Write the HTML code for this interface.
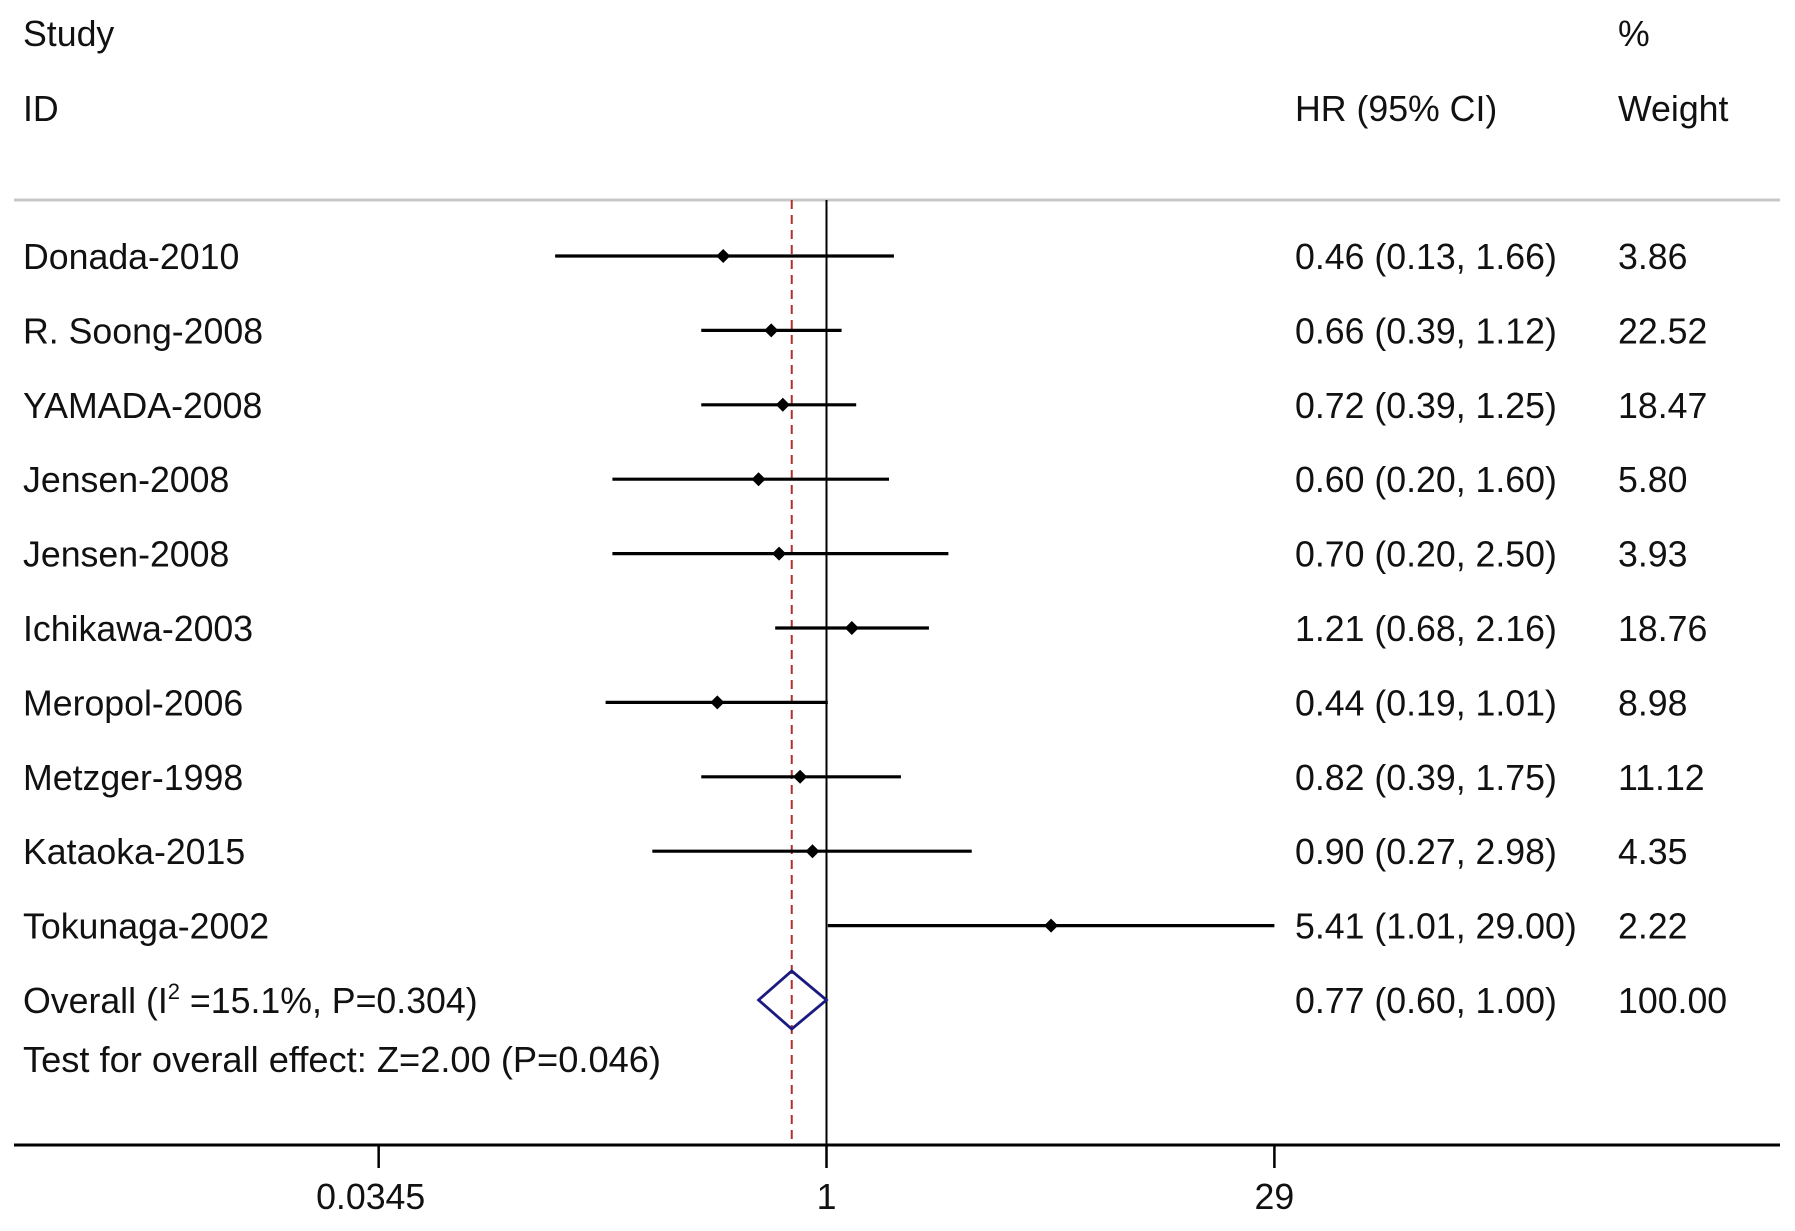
<!DOCTYPE html>
<html><head><meta charset="utf-8"><style>
html,body{margin:0;padding:0;background:#fff}
svg{display:block}
text{font-family:"Liberation Sans",Arial,sans-serif;font-size:35.7px;fill:#111}
</style></head><body>
<svg id="chart" width="1795" height="1231" viewBox="0 0 1795 1231">
<text x="23" y="46">Study</text>
<text x="23" y="121">ID</text>
<text x="1295" y="121">HR (95% CI)</text>
<text x="1618" y="46">%</text>
<text x="1618" y="121">Weight</text>
<line x1="14" y1="200" x2="1780" y2="200" stroke="#c8c8c8" stroke-width="3"/>
<g id="marks"></g>
</svg>
<script>
const studies=["Donada-2010","R. Soong-2008","YAMADA-2008","Jensen-2008","Jensen-2008","Ichikawa-2003","Meropol-2006","Metzger-1998","Kataoka-2015","Tokunaga-2002"];
const hr=[0.46,0.66,0.72,0.60,0.70,1.21,0.44,0.82,0.90,5.41];
const lo=[0.13,0.39,0.39,0.20,0.20,0.68,0.19,0.39,0.27,1.01];
const hi=[1.66,1.12,1.25,1.60,2.50,2.16,1.01,1.75,2.98,29.00];
const weights=["3.86","22.52","18.47","5.80","3.93","18.76","8.98","11.12","4.35","2.22"];
const overall=[0.77,0.60,1.00];
const ticks=[0.0345,1,29];
const tickLabels=["0.0345","1","29"];
const NS="http://www.w3.org/2000/svg";
const g=document.getElementById('marks');
const X=v=>826.5+Math.log(v)*(1274.4-826.5)/Math.log(29);
const Y=i=>256+i*74.4;
function el(t,a,p){const e=document.createElementNS(NS,t);for(const k in a)e.setAttribute(k,a[k]);(p||g).appendChild(e);return e;}
const yBot=1145;
let e=el('line',{x1:X(1),y1:200,x2:X(1),y2:yBot,stroke:'#000','stroke-width':2});


e=el('line',{x1:X(overall[0]),y1:200,x2:X(overall[0]),y2:yBot,stroke:'#b03030','stroke-width':2,'stroke-dasharray':'9,6'});


const f=v=>v.toFixed(2);
studies.forEach((s,i)=>{
  const y=Y(i);
  let t=el('text',{x:23,y:y+13});t.textContent=s;
  
  
  let l=el('line',{x1:X(lo[i]),y1:y,x2:X(hi[i]),y2:y,stroke:'#000','stroke-width':3.2});
  
  
  const cx=X(hr[i]);
  let p=el('polygon',{points:`${cx-7},${y} ${cx},${y-7} ${cx+7},${y} ${cx},${y+7}`,fill:'#000'});
  
  
  t=el('text',{x:1295,y:y+13});t.textContent=`${f(hr[i])} (${f(lo[i])}, ${f(hi[i])})`;
  
  
  t=el('text',{x:1618,y:y+13});t.textContent=weights[i];
  
  
});
const oy=Y(10);
let d=el('polygon',{points:`${X(overall[1])},${oy} ${X(overall[0])},${oy-29} ${X(overall[2])},${oy} ${X(overall[0])},${oy+29}`,fill:'none',stroke:'#1a1a80','stroke-width':2.8});


let t=el('text',{x:23,y:oy+13});
t.innerHTML='Overall  (I<tspan dy="-14" font-size="22">2</tspan><tspan dy="14"> =15.1%, P=0.304)</tspan>';


t=el('text',{x:1295,y:oy+13});t.textContent=`${f(overall[0])} (${f(overall[1])}, ${f(overall[2])})`;


t=el('text',{x:1618,y:oy+13});t.textContent='100.00';


t=el('text',{x:23,y:1072,textLength:638,lengthAdjust:'spacingAndGlyphs'});t.textContent='Test for overall effect: Z=2.00 (P=0.046)';


let ax=el('line',{x1:14,y1:yBot,x2:1780,y2:yBot,stroke:'#000','stroke-width':3});


ticks.forEach((v,i)=>{
  let k=el('line',{x1:X(v),y1:yBot,x2:X(v),y2:1168,stroke:'#000','stroke-width':2.5});
  
  
  let tl=el('text',{x:X(v)-(i===0?8:0),y:1209,'text-anchor':'middle'});tl.textContent=tickLabels[i];
  
  
});
</script>
</body></html>
